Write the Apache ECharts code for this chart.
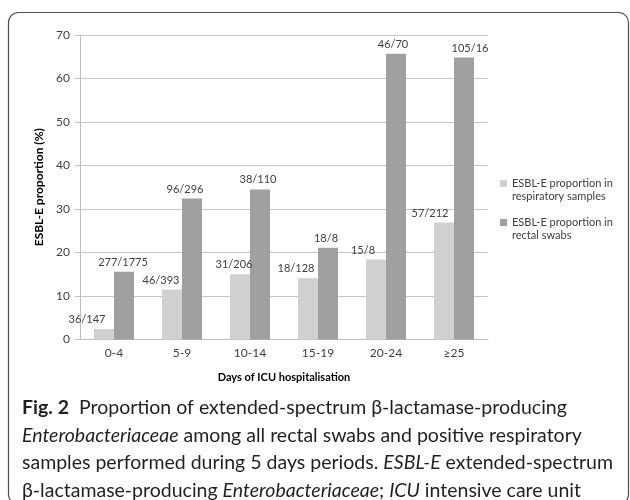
<!DOCTYPE html>
<html>
<head>
<meta charset="utf-8">
<script src="https://cdn.jsdelivr.net/npm/echarts@6/dist/echarts.min.js"></script>
<style>
html,body{margin:0;padding:0;background:#fff;}
#chart{width:630px;height:500px;}
</style>
</head>
<body>
<div id="chart"></div>
<script>
var categories = ['0-4', '5-9', '10-14', '15-19', '20-24', '≥25'];
var respiratoryValues = [2.4, 11.5, 15.0, 14.1, 18.4, 26.9];
var rectalValues = [15.6, 32.4, 34.5, 21.1, 65.7, 64.8];
var respiratoryLabels = ['36/147', '46/393', '31/206', '18/128', '15/8', '57/212'];
var rectalLabels = ['277/1775', '96/296', '38/110', '18/8', '46/70', '105/16'];
var seriesNames = ['ESBL-E proportion in\nrespiratory samples', 'ESBL-E proportion in\nrectal swabs'];
var yTicks = { min: 0, max: 70, interval: 10 };

// label horizontal nudges (style only)
var respOffsets = [-17, -11, -6, -12, -13, -14];
var rectOffsets = [-1, -7, -2, -2, -3, 6];

function buildData(values, labels, offsets) {
  return values.map(function (v, i) {
    return { value: v, label: { formatter: labels[i], offset: [offsets[i], 0] } };
  });
}

// square icon drawn at the top of a tall icon box so it lines up with the first text line
var legendIcon = 'path://M0,3L7,3L7,10L0,10Z M0,0L0.01,0L0.01,0.01Z M0,26L0.01,26L0.01,25.99Z';

var chart = echarts.init(document.getElementById('chart'));
var labelFont = 'Lato, "Open Sans", sans-serif';
chart.setOption({
  animation: false,
  textStyle: { fontFamily: labelFont },
  grid: { left: 80, right: 142, top: 35, bottom: 160.5, containLabel: false },
  legend: {
    orient: 'vertical',
    left: 495,
    top: 172,
    itemWidth: 7,
    itemHeight: 26,
    itemGap: 13,
    icon: legendIcon,
    symbolKeepAspect: false,
    textStyle: { fontSize: 11, color: '#404040', lineHeight: 13, fontFamily: labelFont },
    data: seriesNames
  },
  xAxis: {
    type: 'category',
    data: categories,
    axisLine: { lineStyle: { color: '#bfbfbf', width: 1 } },
    axisTick: { show: false },
    axisLabel: { color: '#404040', fontSize: 12, margin: 8, fontFamily: labelFont },
    name: 'Days of ICU hospitalisation',
    nameLocation: 'middle',
    nameGap: 32,
    nameTextStyle: { fontWeight: 'bold', fontSize: 11, color: '#000', fontFamily: labelFont }
  },
  yAxis: {
    type: 'value',
    min: yTicks.min,
    max: yTicks.max,
    interval: yTicks.interval,
    axisLine: { show: true, lineStyle: { color: '#bfbfbf', width: 1 } },
    axisTick: { show: true, inside: false, length: 5, lineStyle: { color: '#bfbfbf' } },
    axisLabel: { color: '#404040', fontSize: 12, margin: 10, fontFamily: labelFont },
    splitLine: { lineStyle: { color: '#c6c6c6', width: 1 } },
    name: 'ESBL-E proportion (%)',
    nameLocation: 'middle',
    nameGap: 31,
    nameRotate: 90,
    nameTextStyle: { fontWeight: 'bold', fontSize: 12, color: '#000', fontFamily: labelFont }
  },
  series: [
    {
      name: seriesNames[0],
      type: 'bar',
      barWidth: 20,
      barGap: '0%',
      itemStyle: { color: '#d0d1d0' },
      label: { show: true, position: 'top', distance: 4, fontSize: 11, color: '#404040', fontFamily: labelFont },
      data: buildData(respiratoryValues, respiratoryLabels, respOffsets)
    },
    {
      name: seriesNames[1],
      type: 'bar',
      barWidth: 20,
      barGap: '0%',
      itemStyle: { color: '#a0a0a0' },
      label: { show: true, position: 'top', distance: 4, fontSize: 11, color: '#404040', fontFamily: labelFont },
      data: buildData(rectalValues, rectalLabels, rectOffsets)
    }
  ],
  graphic: [
    {
      type: 'rect',
      shape: { x: 8.5, y: 12.5, width: 620, height: 492, r: 10 },
      style: { fill: 'none', stroke: '#4d4d4d', lineWidth: 1.2 },
      silent: true
    },
    {
      type: 'text',
      left: 22,
      top: 394,
      style: {
        text: '{b|Fig. 2}  Proportion of extended-spectrum β-lactamase-producing\n' +
              '{i|Enterobacteriaceae} among all rectal swabs and positive respiratory\n' +
              'samples performed during 5 days periods. {i|ESBL-E} extended-spectrum\n' +
              'β-lactamase-producing {i|Enterobacteriaceae}; {i|ICU} intensive care unit',
        font: '19.5px Lato, "Open Sans", sans-serif',
        fill: '#231f20',
        lineHeight: 27.5,
        rich: {
          b: { fontWeight: 'bold', fontSize: 19.5, fontFamily: 'Lato, "Open Sans", sans-serif', fill: '#231f20', lineHeight: 27.5 },
          i: { fontStyle: 'italic', fontSize: 19.5, fontFamily: 'Lato, "Open Sans", sans-serif', fill: '#231f20', lineHeight: 27.5 }
        }
      }
    }
  ]
});
</script>
</body>
</html>
